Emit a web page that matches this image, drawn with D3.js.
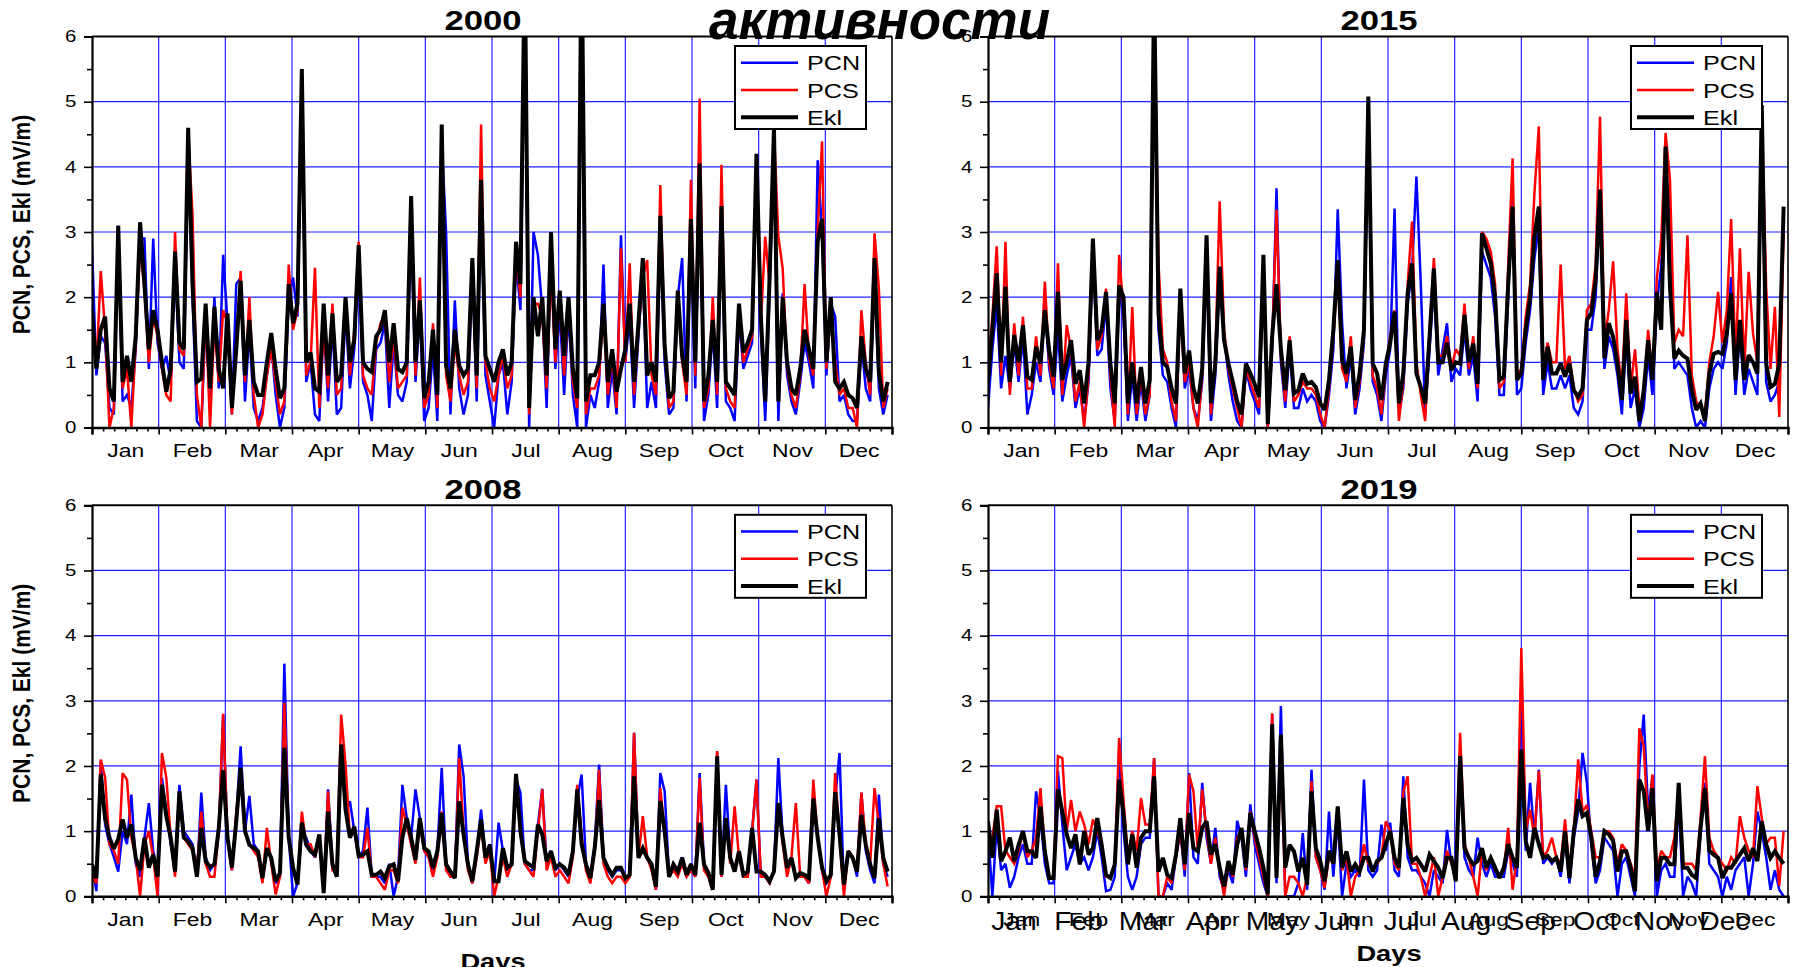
<!DOCTYPE html>
<html>
<head>
<meta charset="utf-8">
<script src="https://cdn.jsdelivr.net/npm/d3@7"></script>
<style>
  body { margin: 0; background: #fff; }
  svg { display: block; }
</style>
</head>
<body>
<svg id="chart" width="1799" height="967"></svg>
<script>
// ---- data (values every second day, mV/m) ----
const months = ["Jan", "Feb", "Mar", "Apr", "May", "Jun", "Jul", "Aug", "Sep", "Oct", "Nov", "Dec"];
const yTicks = [0, 1, 2, 3, 4, 5, 6];
const yMinorTicks = [0.5, 1.5, 2.5, 3.5, 4.5, 5.5];
const seriesNames = ["PCN", "PCS", "Ekl"];

const pcn2000 = [
  2.8,0.8,1.4,1.3,0.3,0.2,3.0,0.4,0.5,0.3, 1.2,2.9,2.9,0.9,2.9,1.3,0.9,1.1,0.7,2.5,
  1.0,0.9,4.3,2.0,0.1,0.0,1.7,0.3,2.0,0.6, 2.65,1.6,0.2,2.2,2.3,0.4,1.5,0.3,0.1,0.3,
  0.8,1.3,0.5,0.0,0.3,2.0,2.3,1.7,5.3,0.7, 1.0,0.2,0.1,1.6,0.4,1.6,0.2,0.3,1.8,0.6,
  1.2,2.7,0.7,0.5,0.1,1.2,1.3,1.6,0.3,1.3, 0.5,0.4,0.7,3.1,0.7,1.8,0.1,0.3,1.2,0.1,
  4.4,3.0,0.2,1.95,0.6,0.2,0.5,2.4,0.4,3.6, 0.8,0.4,0.0,0.8,1.0,0.2,0.7,2.6,1.8,6.5,
  0.0,3.0,2.65,1.8,0.3,2.7,0.9,1.8,0.5,1.8, 0.5,0.0,7.0,0.0,0.5,0.3,0.7,2.5,0.3,0.9,
  0.2,2.95,1.0,1.7,0.3,1.4,2.4,0.3,0.7,0.3, 3.0,1.0,0.2,0.3,2.0,2.6,0.4,3.0,0.6,3.9,
  0.1,0.5,1.5,0.3,3.2,0.4,0.3,0.1,1.7,0.9, 1.1,1.3,4.0,1.5,0.1,2.1,4.4,0.1,2.06,0.8,
  0.4,0.2,0.7,1.3,1.0,0.6,4.1,3.0,0.8,1.9, 1.7,0.4,0.5,0.2,0.1,0.1,1.3,0.6,0.4,2.4,
  0.6,0.2,0.5
];
const pcs2000 = [
  1.6,0.9,2.4,1.5,0.0,0.3,3.08,0.6,0.9,0.0, 1.3,2.8,2.1,1.0,1.7,1.4,0.9,0.5,0.4,3.0,
  1.2,1.1,4.5,3.26,0.5,0.0,1.8,0.0,1.6,0.7, 1.8,1.6,0.2,1.3,2.4,0.7,2.0,0.5,0.0,0.2,
  0.8,1.2,0.7,0.2,0.4,2.5,1.5,1.8,5.3,0.8, 1.0,2.45,0.3,1.5,0.6,1.9,0.5,0.6,2.0,0.8,
  1.5,2.85,0.8,0.6,0.5,1.3,1.6,1.7,0.7,1.4, 0.6,0.7,0.8,3.4,0.8,2.3,0.3,0.5,1.6,0.3,
  4.6,0.8,0.4,1.3,0.8,0.5,0.7,2.5,0.6,4.65, 1.0,0.6,0.4,0.8,1.1,0.6,0.8,2.7,2.0,6.9,
  0.2,1.9,1.9,1.7,0.6,2.42,1.0,2.0,0.8,1.9, 0.7,0.3,7.3,0.2,0.6,0.6,0.8,1.8,0.5,1.1,
  0.3,2.75,1.0,2.52,0.5,1.5,2.3,2.57,0.8,0.5, 3.72,1.2,0.3,0.4,2.1,1.0,0.5,3.8,0.8,5.05,
  0.3,0.6,2.0,0.5,4.03,0.6,0.4,0.3,1.8,1.0, 1.2,1.4,3.9,1.6,2.93,2.2,4.57,2.93,2.44,0.9,
  0.5,0.3,0.8,2.2,1.1,0.8,3.0,4.39,0.9,1.8, 1.0,0.5,0.6,0.3,0.3,0.0,1.8,1.0,0.5,2.98,
  2.13,0.3,0.6
];
const ekl2000 = [
  1.8,0.9,1.5,1.7,0.6,0.4,3.1,0.7,1.1,0.7, 1.4,3.15,2.2,1.2,1.8,1.5,1.0,0.55,0.9,2.7,
  1.3,1.2,4.6,2.2,0.7,0.75,1.9,0.6,1.85,0.9, 0.6,1.75,0.3,1.2,2.25,0.8,1.65,0.7,0.5,0.5,
  1.0,1.45,0.9,0.45,0.6,2.2,1.6,1.9,5.5,1.0, 1.15,0.6,0.55,1.9,0.8,1.75,0.7,0.8,2.0,1.0,
  1.35,2.8,1.0,0.9,0.85,1.4,1.5,1.8,1.0,1.6, 0.9,0.85,1.0,3.55,1.0,1.95,0.45,0.7,1.5,0.5,
  4.65,0.95,0.6,1.5,0.95,0.8,0.9,2.6,0.8,3.8, 1.1,0.9,0.7,1.0,1.2,0.8,1.0,2.85,2.2,7.2,
  0.3,2.0,1.4,2.0,0.8,3.0,1.2,2.1,1.1,2.0, 0.9,0.45,7.5,0.4,0.8,0.8,1.0,1.9,0.7,1.2,
  0.55,0.9,1.2,1.9,0.7,1.6,2.6,0.8,1.0,0.7, 3.25,1.25,0.45,0.55,2.1,1.1,0.7,3.2,1.0,4.05,
  0.4,0.8,1.65,0.7,3.4,0.7,0.6,0.5,1.9,1.15, 1.3,1.5,4.2,1.7,0.4,2.3,4.6,0.4,2.0,1.0,
  0.6,0.5,0.9,1.5,1.2,0.9,2.85,3.2,1.0,2.0, 0.7,0.6,0.7,0.5,0.45,0.3,1.4,0.9,0.7,2.6,
  0.85,0.4,0.7
];

const pcn2015 = [
  0.3,1.2,1.9,0.6,1.1,0.6,1.3,0.7,1.4,0.2, 0.5,1.0,0.7,1.9,0.9,0.5,1.5,0.4,0.8,1.1,
  0.3,0.6,0.1,0.7,2.7,1.1,1.2,1.9,0.6,0.1, 2.1,1.7,0.1,0.8,0.1,0.7,0.1,0.5,6.5,1.5,
  0.8,0.7,0.3,0.0,2.0,0.6,0.9,0.3,0.1,0.7, 2.6,0.1,0.8,2.3,1.4,0.8,0.4,0.1,0.0,0.9,
  0.6,0.4,0.2,2.57,0.0,1.2,3.67,1.0,0.3,1.2, 0.3,0.3,0.6,0.4,0.5,0.4,0.1,0.0,0.5,1.2,
  3.35,1.6,0.6,1.1,0.2,0.6,1.3,4.8,0.7,0.5, 0.1,0.8,1.2,3.36,0.2,0.6,1.9,2.4,3.85,2.2,
  0.2,1.2,2.2,0.8,1.2,1.6,0.7,0.9,0.8,1.5, 0.8,1.1,0.4,2.7,2.5,2.3,1.7,0.5,0.5,2.0,
  3.62,0.5,0.6,1.3,1.8,2.6,3.1,0.5,1.0,0.6, 0.6,0.8,0.6,0.8,0.3,0.2,0.4,1.5,1.5,2.0,
  3.5,0.9,1.4,1.2,0.8,0.2,1.4,0.3,0.6,0.0, 0.3,1.1,0.5,1.9,2.47,4.0,3.26,0.9,1.0,0.9,
  0.8,0.3,0.0,0.1,0.0,0.6,0.9,1.0,0.9,1.3, 2.31,0.5,1.5,0.5,0.9,0.7,0.5,4.7,0.7,0.4,
  0.5,0.7,3.2
];
const pcs2015 = [
  0.9,1.7,2.78,0.8,2.85,0.5,1.6,0.8,1.7,0.6, 0.6,1.4,0.8,2.24,1.0,0.6,2.52,0.5,1.57,1.2,
  0.4,0.7,0.0,0.8,2.8,1.2,1.4,2.13,0.8,0.0, 2.65,1.8,0.2,1.85,0.2,0.8,0.2,0.5,6.6,2.52,
  1.2,1.0,0.4,0.1,1.9,0.7,1.0,0.3,0.0,0.8, 2.8,0.2,1.1,3.47,1.5,0.9,0.6,0.3,0.0,0.9,
  0.7,0.5,0.3,2.5,0.0,1.3,3.34,1.1,0.4,1.4, 0.4,0.5,0.7,0.6,0.6,0.5,0.2,0.0,0.6,1.4,
  2.4,0.9,0.7,1.4,0.3,0.7,1.4,4.9,0.8,0.6, 0.2,0.9,1.4,1.8,0.1,0.7,2.2,3.16,1.0,0.5,
  0.1,1.5,2.6,1.1,1.1,1.4,0.9,1.2,1.1,1.9, 0.9,1.4,0.6,3.0,2.9,2.7,2.2,0.6,0.7,2.5,
  4.13,0.8,0.9,1.7,2.2,3.6,4.62,0.9,1.3,1.0, 1.0,2.5,0.9,1.1,0.6,0.4,0.5,1.8,1.9,2.5,
  4.77,1.3,1.8,2.55,1.2,0.6,2.06,0.6,1.2,0.3, 0.5,1.5,0.8,2.3,2.88,4.52,3.8,1.3,1.5,1.4,
  2.95,0.8,0.4,0.3,0.2,1.0,1.4,2.08,1.3,1.8, 3.2,1.0,2.75,0.9,2.39,1.44,1.0,4.8,2.16,0.9,
  1.85,0.16,3.0
];
const ekl2015 = [
  0.7,1.5,2.37,1.0,2.16,0.7,1.42,1.0,1.57,0.78, 0.73,1.24,0.98,1.8,1.18,0.78,2.08,0.73,1.0,1.34,
  0.67,0.88,0.37,1.0,2.9,1.34,1.5,2.08,0.98,0.37, 2.18,2.0,0.37,1.0,0.37,0.93,0.37,0.73,6.8,1.75,
  1.0,0.93,0.6,0.37,2.13,0.83,1.18,0.6,0.37,0.9, 2.95,0.37,0.98,2.47,1.34,0.98,0.7,0.4,0.2,0.98,
  0.83,0.67,0.47,2.65,0.05,1.4,2.2,1.2,0.57,1.34, 0.52,0.57,0.83,0.67,0.7,0.62,0.37,0.27,0.73,1.5,
  2.57,1.03,0.83,1.24,0.42,0.83,1.5,5.08,0.98,0.83, 0.42,0.98,1.3,1.78,0.37,0.83,2.06,2.52,0.83,0.62,
  0.37,1.39,2.44,1.0,1.0,1.3,0.88,1.0,0.98,1.73, 1.0,1.29,0.67,2.98,2.75,2.52,2.0,0.73,0.78,2.21,
  3.39,0.73,0.83,1.5,1.98,2.93,3.39,0.73,1.24,0.83, 0.83,0.98,0.78,0.98,0.57,0.47,0.6,1.65,1.75,2.26,
  3.65,1.06,1.6,1.39,0.98,0.42,1.65,0.52,0.78,0.1, 0.57,1.34,0.73,2.08,1.5,4.31,2.16,1.06,1.18,1.1,
  1.06,0.57,0.27,0.37,0.1,0.83,1.13,1.16,1.13,1.44, 2.06,0.73,1.65,0.73,1.11,1.0,0.83,4.95,0.98,0.62,
  0.67,0.98,3.39
];

const pcn2008 = [
  0.5,0.08,2.07,1.1,0.8,0.6,0.38,1.0,0.8,1.56, 0.5,0.3,0.9,1.43,0.7,0.3,1.82,1.3,0.8,0.4,
  1.71,1.0,0.9,0.8,0.3,1.59,0.6,0.4,0.5,1.0, 2.79,0.9,0.4,1.2,2.3,1.0,1.54,0.8,0.7,0.3,
  0.7,0.6,0.2,0.3,3.57,0.9,0.0,0.2,1.0,0.9, 0.7,0.6,0.9,0.1,1.64,0.5,0.4,2.33,1.3,1.46,
  1.0,0.6,0.7,1.36,0.3,0.3,0.3,0.2,0.5,0.0, 0.3,1.71,1.2,0.9,1.64,1.2,0.7,0.6,0.4,0.7,
  1.97,0.5,0.3,0.3,2.33,1.84,0.5,0.2,0.7,1.33, 0.6,0.8,0.2,1.13,0.7,0.4,0.5,1.8,1.59,0.5,
  0.4,0.4,1.1,1.65,0.5,0.7,0.4,0.5,0.4,0.3, 0.7,1.5,1.87,0.5,0.3,0.8,2.02,0.6,0.4,0.3,
  0.4,0.4,0.3,0.3,2.51,0.6,0.7,0.6,0.5,0.1, 1.89,1.61,0.3,0.5,0.4,0.6,0.3,0.5,0.3,1.89,
  0.5,0.3,0.1,2.2,0.3,1.71,0.6,0.4,0.7,0.3, 0.3,1.0,1.79,0.3,0.3,0.2,0.4,2.12,0.9,0.4,
  0.6,0.3,0.3,0.3,0.2,1.51,0.9,0.4,0.2,0.3, 1.5,2.2,0.1,0.7,0.6,0.3,1.59,0.7,0.4,0.2,
  1.56,0.5,0.3
];
const pcs2008 = [
  0.3,0.2,2.1,1.82,0.8,0.7,0.5,1.89,1.79,0.9, 0.6,0.0,0.8,1.0,0.6,0.0,2.2,1.82,0.9,0.3,
  1.59,0.9,0.8,0.7,0.4,1.3,0.5,0.3,0.3,1.0, 2.8,0.9,0.4,1.28,1.92,1.0,0.8,0.7,0.6,0.2,
  1.05,0.5,0.03,0.3,2.97,0.9,0.4,0.2,1.3,0.8, 0.8,0.6,0.9,0.1,1.61,0.4,0.4,2.79,2.02,0.9,
  1.0,0.6,0.6,1.05,0.3,0.3,0.2,0.1,0.4,0.4, 0.2,1.36,1.1,0.8,0.5,1.1,0.7,0.6,0.3,0.6,
  1.3,0.4,0.3,0.3,2.12,1.0,0.4,0.2,0.6,1.1, 0.5,0.7,0.0,0.3,0.6,0.3,0.5,1.84,1.0,0.5,
  0.4,0.3,1.0,1.64,0.4,0.6,0.3,0.4,0.3,0.2, 0.6,1.71,0.9,0.4,0.2,0.7,1.94,0.5,0.3,0.2,
  0.3,0.3,0.2,0.3,2.51,0.6,1.23,0.6,0.4,0.1, 1.66,1.0,0.3,0.4,0.3,0.5,0.3,0.4,0.3,1.82,
  0.4,0.3,0.1,2.23,0.3,1.2,0.5,1.38,0.6,0.3, 0.3,1.0,1.79,0.3,0.3,0.2,0.4,1.43,0.8,0.3,
  0.6,1.43,0.3,0.3,0.2,1.79,0.9,0.4,0.0,0.3, 1.89,0.9,0.0,0.7,0.6,0.4,1.59,0.8,0.5,1.66,
  1.1,0.5,0.15
];
const ekl2008 = [
  0.49,0.28,1.87,1.2,0.9,0.73,0.88,1.18,0.9,1.1, 0.59,0.4,0.9,0.44,0.64,0.3,1.71,1.23,0.9,0.38,
  1.61,0.9,0.84,0.74,0.3,1.05,0.54,0.45,0.49,1.05, 1.94,0.9,0.44,1.15,1.97,1.0,0.79,0.74,0.69,0.28,
  0.74,0.59,0.23,0.36,2.28,0.9,0.44,0.18,1.13,0.79, 0.69,0.64,0.95,0.05,1.3,0.49,0.3,2.33,1.33,0.9,
  1.07,0.62,0.64,0.69,0.33,0.33,0.38,0.28,0.46,0.49, 0.23,0.9,1.2,0.9,0.56,1.2,0.74,0.69,0.44,0.69,
  1.28,0.49,0.38,0.28,1.46,0.95,0.49,0.23,0.69,1.18, 0.59,0.79,0.23,0.23,0.74,0.44,0.49,1.88,1.0,0.54,
  0.49,0.44,1.1,0.95,0.54,0.69,0.44,0.49,0.44,0.33, 0.69,1.64,0.8,0.49,0.28,0.74,1.48,0.59,0.44,0.33,
  0.44,0.44,0.28,0.33,1.84,0.59,0.74,0.59,0.49,0.15, 1.46,1.0,0.3,0.49,0.38,0.59,0.33,0.49,0.33,1.13,
  0.49,0.36,0.1,2.15,0.33,1.2,0.59,0.38,0.69,0.33, 0.38,1.05,0.38,0.38,0.33,0.23,0.38,1.43,0.9,0.44,
  0.59,0.28,0.36,0.33,0.28,1.5,0.9,0.44,0.23,0.33, 1.6,0.95,0.18,0.69,0.59,0.38,1.25,0.79,0.49,0.28,
  1.2,0.59,0.38
];

const pcn2019 = [
  1.0,0.0,1.1,0.4,0.5,0.13,0.3,0.6,0.8,0.5, 0.5,1.61,1.2,0.5,0.2,0.2,1.92,1.1,0.4,0.6,
  0.8,0.5,0.6,0.4,0.6,1.0,0.6,0.08,0.1,0.3, 2.28,1.0,0.3,0.1,0.3,0.8,0.9,0.9,2.12,0.0,
  0.0,0.2,0.1,0.6,1.0,0.3,1.89,0.6,0.5,1.74, 0.9,0.5,1.05,0.3,0.1,0.4,0.2,1.16,0.9,0.3,
  1.41,0.8,0.5,0.2,0.0,2.79,0.2,2.92,0.0,0.0, 0.0,0.2,0.97,0.1,1.94,0.6,0.4,0.1,1.3,0.3,
  1.2,0.0,0.5,0.3,0.4,0.3,1.79,0.4,0.3,0.4, 1.1,0.7,1.13,0.4,0.3,1.84,0.6,0.4,0.4,0.3,
  0.2,0.0,0.4,0.3,0.2,1.02,0.5,0.3,2.12,0.6, 0.4,0.3,0.9,0.5,0.3,0.5,0.3,0.3,0.3,0.7,
  0.5,0.3,3.3,0.7,1.74,0.9,1.94,0.5,0.6,0.5, 0.6,0.3,0.9,0.2,0.9,1.3,2.2,1.74,0.8,0.2,
  0.4,0.9,0.8,0.7,0.0,0.5,0.6,0.3,0.0,2.0, 2.79,1.3,1.84,0.0,0.4,0.5,0.3,0.3,1.5,0.0,
  0.3,0.2,0.0,1.0,1.74,0.5,0.4,0.3,0.0,0.3, 0.1,0.4,0.5,0.6,0.0,0.5,1.3,1.0,0.6,0.1,
  0.4,0.1,0.0
];
const pcs2019 = [
  0.8,0.9,1.38,1.38,0.7,0.6,0.5,0.7,1.0,0.6, 0.7,0.9,1.66,0.7,0.3,0.3,2.15,2.12,1.0,1.48,
  1.0,1.3,1.1,0.8,1.18,1.0,0.8,0.3,0.3,0.5, 2.43,1.48,0.6,1.0,0.7,1.51,1.1,1.1,2.12,0.0,
  0.0,0.3,0.2,0.6,1.0,0.4,1.87,1.61,0.7,1.64, 1.0,0.5,0.9,0.4,0.0,0.5,0.3,0.9,1.0,0.4,
  1.3,0.9,0.6,0.3,0.0,2.81,0.3,2.3,0.0,0.3, 0.3,0.2,0.0,0.3,1.77,0.6,0.4,0.13,0.6,0.5,
  1.2,0.4,0.6,0.0,0.3,0.4,0.8,0.5,0.4,0.5, 0.6,1.15,1.0,0.5,0.4,1.6,1.84,0.5,0.5,0.3,
  0.0,0.3,0.6,0.0,0.3,0.7,0.5,0.4,2.51,0.8, 0.6,0.3,0.0,0.7,0.4,0.6,0.4,0.3,0.4,1.05,
  0.1,0.6,3.81,1.0,1.33,0.9,1.92,0.6,0.7,0.9, 0.6,0.5,1.18,0.4,1.0,2.1,1.3,1.4,1.0,0.6,
  0.6,1.0,1.0,0.9,0.5,0.8,0.7,0.5,0.3,2.58, 2.3,1.1,1.87,0.4,0.7,0.6,0.6,0.9,1.6,0.5,
  0.5,0.5,0.4,1.2,2.15,0.9,0.7,0.6,0.5,0.4, 0.6,0.5,1.23,0.9,0.7,0.6,1.69,1.2,0.8,0.9,
  0.9,0.16,1.0
];
const ekl2019 = [
  1.15,0.59,1.33,0.54,0.69,0.9,0.54,0.79,1.0,0.69, 0.69,0.59,1.38,0.69,0.28,0.28,1.64,1.3,0.95,0.74,
  0.95,0.49,1.0,0.64,0.74,1.2,0.79,0.33,0.28,0.49, 1.79,1.26,0.49,0.95,0.44,0.9,1.0,1.0,1.84,0.38,
  0.59,0.33,0.28,0.64,1.2,0.49,1.28,0.74,0.69,1.05, 1.15,0.64,0.8,0.44,0.15,0.54,0.33,0.79,1.05,0.44,
  1.28,1.0,0.74,0.44,0.03,2.64,0.28,2.48,0.44,0.79, 0.69,0.38,0.59,0.18,1.61,0.74,0.54,0.23,0.7,0.5,
  1.38,0.44,0.69,0.38,0.49,0.38,0.59,0.59,0.38,0.54, 0.59,0.8,1.0,0.59,0.44,1.51,0.79,0.54,0.59,0.49,
  0.38,0.64,0.54,0.44,0.28,0.59,0.59,0.23,2.15,0.74, 0.59,0.49,0.54,0.74,0.44,0.59,0.44,0.28,0.44,0.8,
  0.59,0.44,2.25,0.85,0.59,1.05,0.8,0.59,0.62,0.54, 0.59,0.38,1.0,0.28,1.0,1.49,1.23,1.28,0.9,0.3,
  0.54,1.0,0.95,0.85,0.38,0.69,0.69,0.44,0.08,1.79, 1.61,1.0,1.66,0.23,0.59,0.59,0.49,0.49,1.74,0.44,
  0.44,0.33,0.28,1.05,1.66,0.7,0.64,0.59,0.28,0.44, 0.44,0.54,0.64,0.74,0.54,0.74,0.54,1.15,0.8,0.59,
  0.69,0.59,0.5
];

// ---- layout ----
const FONT = '"Liberation Sans", Arial, Helvetica, sans-serif';
const SX = 1.24;              // the source picture is stretched horizontally
const W = 800, H = 391;
const colors = { PCN: "#0000ff", PCS: "#ff0000", Ekl: "#000000" };
const widths = { PCN: 2.5, PCS: 2.5, Ekl: 4 };
const days = d3.range(1, 366, 2);
const monthEdges = d3.range(13).map(k => 1 + k * 30.5);
const minorTicks = d3.range(73).map(k => 1 + k * 30.5 / 6).filter((d, k) => k % 6 !== 0);

const panels = [
  { year: "2000", left: 92, top: 36.5, pcn: pcn2000, pcs: pcs2000, ekl: ekl2000, yLabel: true },
  { year: "2015", left: 988, top: 36.5, pcn: pcn2015, pcs: pcs2015, ekl: ekl2015 },
  { year: "2008", left: 92, top: 505.3, pcn: pcn2008, pcs: pcs2008, ekl: ekl2008, yLabel: true, days: 969 },
  { year: "2019", left: 988, top: 505.3, pcn: pcn2019, pcs: pcs2019, ekl: ekl2019, days: 961, doubled: true }
];

const svg = d3.select("#chart").style("font-family", FONT);
svg.append("rect").attr("width", 1799).attr("height", 967).attr("fill", "#fff");
const defs = svg.append("defs");

function stretchedText(parent, x, y, txt, size, opts = {}) {
  return parent.append("text")
    .attr("transform", `translate(${x},${y}) scale(${opts.sx || SX},1)`)
    .attr("text-anchor", opts.anchor || "middle")
    .attr("font-size", size)
    .attr("font-weight", opts.bold ? "bold" : "normal")
    .attr("fill", "#000")
    .text(txt);
}

panels.forEach((p, pi) => {
  const x = d3.scaleLinear().domain([1, 367]).range([p.left, p.left + W]);
  const y = d3.scaleLinear().domain([0, 6]).range([p.top + H, p.top]);
  const g = svg.append("g");

  defs.append("clipPath").attr("id", "clip" + pi).append("rect")
    .attr("x", p.left).attr("y", p.top).attr("width", W).attr("height", H);

  // grid
  g.append("g").selectAll("line").data(monthEdges.slice(1, 12)).join("line")
    .attr("x1", d => x(d)).attr("x2", d => x(d))
    .attr("y1", y(0)).attr("y2", y(6))
    .attr("stroke", "#2020ff").attr("stroke-width", 1.2);
  g.append("g").selectAll("line").data(yTicks.slice(1, 6)).join("line")
    .attr("x1", x(1)).attr("x2", x(367))
    .attr("y1", d => y(d)).attr("y2", d => y(d))
    .attr("stroke", "#2020ff").attr("stroke-width", 1.2);

  // series
  const line = d3.line().x((d, i) => x(days[i])).y(d => y(d));
  const vals = { PCN: p.pcn, PCS: p.pcs, Ekl: p.ekl };
  seriesNames.forEach(name => {
    g.append("path").datum(vals[name])
      .attr("clip-path", `url(#clip${pi})`)
      .attr("fill", "none")
      .attr("stroke", colors[name])
      .attr("stroke-width", widths[name])
      .attr("stroke-miterlimit", 2.5)
      .attr("d", line);
  });

  // frame (top, right)
  g.append("line").attr("x1", x(1)).attr("x2", x(367)).attr("y1", y(6)).attr("y2", y(6))
    .attr("stroke", "#000").attr("stroke-width", 2);
  g.append("line").attr("x1", x(367)).attr("x2", x(367)).attr("y1", y(6)).attr("y2", y(0))
    .attr("stroke", "#000").attr("stroke-width", 1.6);

  // y axis
  const ya = g.append("g").attr("transform", `translate(${p.left},0)`)
    .call(d3.axisLeft(y).tickValues(yTicks).tickSize(8).tickFormat(d3.format("d")));
  ya.select(".domain").attr("stroke-width", 2.2);
  ya.selectAll(".tick line").attr("stroke-width", 1.6);
  ya.selectAll(".tick text")
    .attr("x", -15.5 / SX).attr("transform", `scale(${SX},1)`)
    .attr("font-size", 16.5).attr("font-family", FONT).attr("fill", "#000");
  const ym = g.append("g").attr("transform", `translate(${p.left},0)`)
    .call(d3.axisLeft(y).tickValues(yMinorTicks).tickSize(5).tickFormat(""));
  ym.select(".domain").remove();
  ym.selectAll(".tick line").attr("stroke-width", 1.6);

  // x axis
  const xa = g.append("g").attr("transform", `translate(0,${p.top + H})`)
    .call(d3.axisBottom(x).tickValues(monthEdges).tickSize(7).tickFormat(""));
  xa.select(".domain").attr("stroke-width", 2.4);
  xa.selectAll(".tick line").attr("stroke-width", 1.6);
  const xm = g.append("g").attr("transform", `translate(0,${p.top + H})`)
    .call(d3.axisBottom(x).tickValues(minorTicks).tickSize(4).tickFormat(""));
  xm.select(".domain").remove();
  xm.selectAll(".tick line").attr("stroke-width", 1.6);

  // month labels
  const mScale = d3.scalePoint().domain(months)
    .range([x(1 + 15.25), x(1 + 30.5 * 11 + 15.25)]);
  const ml = g.append("g").attr("transform", `translate(0,${p.top + H})`)
    .call(d3.axisBottom(mScale).tickSize(0));
  ml.select(".domain").remove();
  ml.selectAll(".tick text")
    .attr("y", 30).attr("dy", null).attr("transform", `scale(${SX},1)`)
    .attr("font-size", 18.5).attr("font-family", FONT).attr("fill", "#000");

  if (p.doubled) {
    const bigScale = d3.scalePoint().domain(months).range([p.left + 25.5, p.left + 736]);
    const bl = g.append("g").attr("transform", `translate(0,${p.top + H})`)
      .call(d3.axisBottom(bigScale).tickSize(0));
    bl.select(".domain").remove();
    bl.selectAll(".tick text")
      .attr("y", 34).attr("dy", null).attr("transform", "scale(1.11,1)")
      .attr("font-size", 25.5).attr("font-family", FONT).attr("fill", "#000");
  }

  // panel title
  stretchedText(g, p.left + 391, p.top - 6.5, p.year, 28, { bold: true });

  // legend
  const lx = p.left + W - 157, ly = p.top + 9.5;
  const lg = g.append("g").attr("transform", `translate(${lx},${ly})`);
  lg.append("rect").attr("width", 131).attr("height", 83)
    .attr("fill", "#fff").attr("stroke", "#000").attr("stroke-width", 2);
  seriesNames.forEach((name, k) => {
    const cy = 16.7 + k * 27.3;
    lg.append("line").attr("x1", 6).attr("x2", 63).attr("y1", cy).attr("y2", cy)
      .attr("stroke", colors[name]).attr("stroke-width", name === "Ekl" ? 4 : 2.6);
    stretchedText(lg, 72, cy + 7.5, name, 21, { anchor: "start", sx: 1.2 });
  });

  // axis titles
  if (p.yLabel) {
    g.append("text")
      .attr("transform", `translate(30,${p.top + 188}) rotate(-90) scale(1,1.12)`)
      .attr("text-anchor", "middle").attr("font-size", 21).attr("font-weight", "bold")
      .attr("fill", "#000")
      .text("PCN, PCS, Ekl  (mV/m)");
  }
  if (p.days) {
    stretchedText(g, p.left + 401, p.days, "Days", 22, { bold: true });
  }
});

// stray heading at the top
svg.append("text")
  .attr("x", 709).attr("y", 39)
  .attr("textLength", 341).attr("lengthAdjust", "spacingAndGlyphs")
  .attr("font-size", 56).attr("font-weight", "bold").attr("font-style", "italic")
  .attr("fill", "#000")
  .text("активности");
</script>
</body>
</html>
